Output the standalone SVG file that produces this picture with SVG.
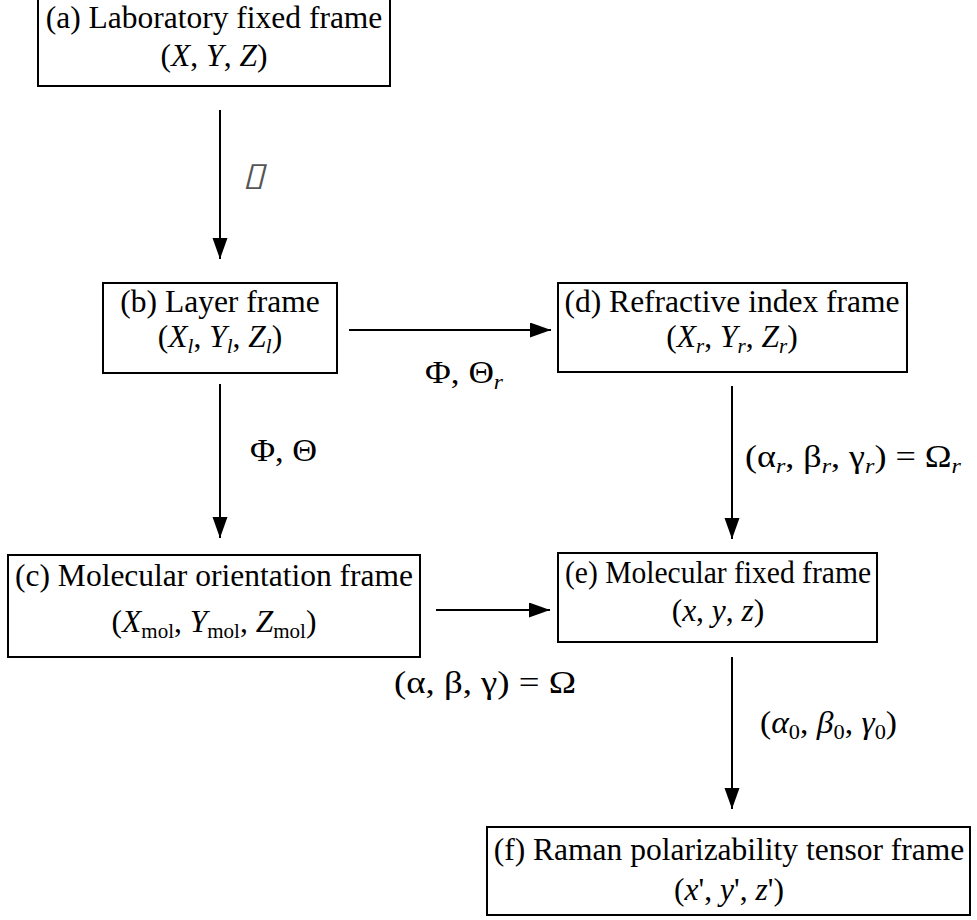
<svg xmlns="http://www.w3.org/2000/svg" width="977" height="920" viewBox="0 0 977 920">
  <defs>
    <style>
      .box { fill: #fff; stroke: #000; stroke-width: 2; }
      .t { font-family: 'Liberation Serif', 'Tinos', 'Times New Roman', 'DejaVu Serif', serif; font-size: 31.5px; fill: #000; }
      .c { text-anchor: middle; }
      .i { font-style: italic; }
      .sub { font-size: 21px; }
      .edge { stroke: #000; stroke-width: 2; fill: none; marker-end: url(#head); }
      .box-glyph { font-family: 'DejaVu Sans', sans-serif; font-size: 24px; fill: #555; }
    </style>
    <marker id="head" markerUnits="userSpaceOnUse" markerWidth="22" markerHeight="16" refX="21" refY="7.5" orient="auto">
      <path d="M0,0 L21,7.5 L0,15 Z" fill="#000"/>
    </marker>
  </defs>
  <rect width="977" height="920" fill="#fff"/>

  <!-- connectors and their angle labels -->
  <g id="connectors">
    <line class="edge" x1="220" y1="110" x2="220" y2="259"/>
    <line class="edge" x1="220" y1="384" x2="220" y2="538"/>
    <line class="edge" x1="349" y1="330" x2="551" y2="330"/>
    <line class="edge" x1="732" y1="386" x2="732" y2="539"/>
    <line class="edge" x1="436" y1="610" x2="550" y2="610"/>
    <line class="edge" x1="732" y1="657" x2="732" y2="809"/>

    <text class="box-glyph" x="0" y="0" transform="translate(243,185) skewX(-14) scale(1.7,1.35)">▯</text>
    <text class="t" x="250" y="461" textLength="67" lengthAdjust="spacingAndGlyphs">Φ, Θ</text>
    <text class="t" x="425" y="383" textLength="78" lengthAdjust="spacingAndGlyphs">Φ, Θ<tspan class="sub i" dy="6">r</tspan></text>
    <text class="t" x="745" y="467" textLength="216" lengthAdjust="spacingAndGlyphs">(α<tspan class="sub i" dy="6">r</tspan><tspan dy="-6">, β</tspan><tspan class="sub i" dy="6">r</tspan><tspan dy="-6">, γ</tspan><tspan class="sub i" dy="6">r</tspan><tspan dy="-6">) = Ω</tspan><tspan class="sub i" dy="6">r</tspan></text>
    <text class="t" x="394" y="693" textLength="182" lengthAdjust="spacingAndGlyphs">(α, β, γ) = Ω</text>
    <text class="t" x="760" y="733" textLength="137" lengthAdjust="spacingAndGlyphs">(<tspan class="i">α</tspan><tspan class="sub" dy="6">0</tspan><tspan dy="-6">, </tspan><tspan class="i">β</tspan><tspan class="sub" dy="6">0</tspan><tspan dy="-6">, </tspan><tspan class="i">γ</tspan><tspan class="sub" dy="6">0</tspan><tspan dy="-6">)</tspan></text>
  </g>

  <!-- (a) -->
  <g id="node-a">
    <rect class="box" x="38" y="-2" width="352" height="88"/>
    <text class="t c" x="214" y="28">(a) Laboratory fixed frame</text>
    <text class="t c" x="214" y="66">(<tspan class="i">X</tspan>, <tspan class="i">Y</tspan>, <tspan class="i">Z</tspan>)</text>
  </g>

  <!-- (b) -->
  <g id="node-b">
    <rect class="box" x="103" y="283" width="234" height="90"/>
    <text class="t c" x="220" y="312">(b) Layer frame</text>
    <text class="t c" x="220" y="347">(<tspan class="i">X</tspan><tspan class="sub i" dy="6">l</tspan><tspan dy="-6">, </tspan><tspan class="i">Y</tspan><tspan class="sub i" dy="6">l</tspan><tspan dy="-6">, </tspan><tspan class="i">Z</tspan><tspan class="sub i" dy="6">l</tspan><tspan dy="-6">)</tspan></text>
  </g>

  <!-- (c) -->
  <g id="node-c">
    <rect class="box" x="8" y="555" width="412" height="102"/>
    <text class="t c" x="214" y="586">(c) Molecular orientation frame</text>
    <text class="t c" x="214" y="632">(<tspan class="i">X</tspan><tspan class="sub" dy="6">mol</tspan><tspan dy="-6">, </tspan><tspan class="i">Y</tspan><tspan class="sub" dy="6">mol</tspan><tspan dy="-6">, </tspan><tspan class="i">Z</tspan><tspan class="sub" dy="6">mol</tspan><tspan dy="-6">)</tspan></text>
  </g>

  <!-- (d) -->
  <g id="node-d">
    <rect class="box" x="558" y="283" width="349" height="89"/>
    <text class="t c" x="732" y="312">(d) Refractive index frame</text>
    <text class="t c" x="732" y="347">(<tspan class="i">X</tspan><tspan class="sub i" dy="6">r</tspan><tspan dy="-6">, </tspan><tspan class="i">Y</tspan><tspan class="sub i" dy="6">r</tspan><tspan dy="-6">, </tspan><tspan class="i">Z</tspan><tspan class="sub i" dy="6">r</tspan><tspan dy="-6">)</tspan></text>
  </g>

  <!-- (e) -->
  <g id="node-e">
    <rect class="box" x="558" y="553" width="319" height="89"/>
    <text class="t c" x="718" y="583" textLength="306" lengthAdjust="spacingAndGlyphs">(e) Molecular fixed frame</text>
    <text class="t c" x="718" y="621">(<tspan class="i">x</tspan>, <tspan class="i">y</tspan>, <tspan class="i">z</tspan>)</text>
  </g>

  <!-- (f) -->
  <g id="node-f">
    <rect class="box" x="487" y="827" width="483" height="88"/>
    <text class="t c" x="729" y="860">(f) Raman polarizability tensor frame</text>
    <text class="t c" x="729" y="900">(<tspan class="i">x</tspan>', <tspan class="i">y</tspan>', <tspan class="i">z</tspan>')</text>
  </g>
</svg>
